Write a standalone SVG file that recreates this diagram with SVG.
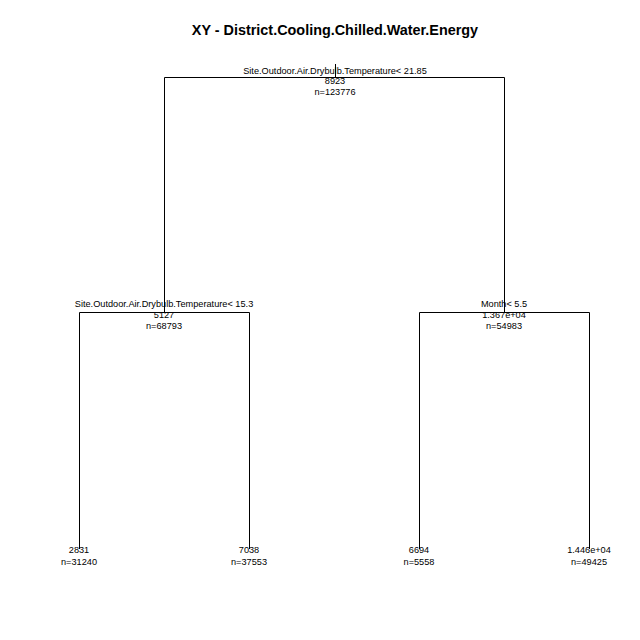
<svg xmlns="http://www.w3.org/2000/svg" width="640" height="640" viewBox="0 0 640 640">
<style>
.t{font-family:"Liberation Sans",Arial,sans-serif;font-size:9.2px;fill:#000;text-anchor:middle}
.title{font-family:"Liberation Sans",Arial,sans-serif;font-size:14.4px;font-weight:bold;fill:#000;text-anchor:middle}
.c{stroke:#000;stroke-width:1;fill:none}
</style>
<rect width="640" height="640" fill="#fff"/>
<text class="title" x="335" y="35">XY - District.Cooling.Chilled.Water.Energy</text>
<g id="connectors">
<path class="c" d="M335.5,64V77.5M164.5,312V77.5H504.5V312"/>
<path class="c" d="M79.5,549V312.5H249.5V549"/>
<path class="c" d="M419.5,549V312.5H589.5V549"/>
</g>
<g id="node1">
<text class="t" x="335" y="73.5">Site.Outdoor.Air.Drybulb.Temperature&lt; 21.85</text>
<text class="t" x="335" y="84">8923</text>
<text class="t" x="335" y="95">n=123776</text>
</g>
<g id="node2">
<text class="t" x="164" y="306.5">Site.Outdoor.Air.Drybulb.Temperature&lt; 15.3</text>
<text class="t" x="164" y="317.5">5127</text>
<text class="t" x="164" y="328.5">n=68793</text>
</g>
<g id="node3">
<text class="t" x="504" y="306.5">Month&lt; 5.5</text>
<text class="t" x="504" y="317.5">1.367e+04</text>
<text class="t" x="504" y="328.5">n=54983</text>
</g>
<g id="node4">
<text class="t" x="79" y="552.5">2831</text>
<text class="t" x="79" y="564.5">n=31240</text>
</g>
<g id="node5">
<text class="t" x="249" y="552.5">7038</text>
<text class="t" x="249" y="564.5">n=37553</text>
</g>
<g id="node6">
<text class="t" x="419" y="552.5">6694</text>
<text class="t" x="419" y="564.5">n=5558</text>
</g>
<g id="node7">
<text class="t" x="589" y="552.5">1.446e+04</text>
<text class="t" x="589" y="564.5">n=49425</text>
</g>
</svg>
